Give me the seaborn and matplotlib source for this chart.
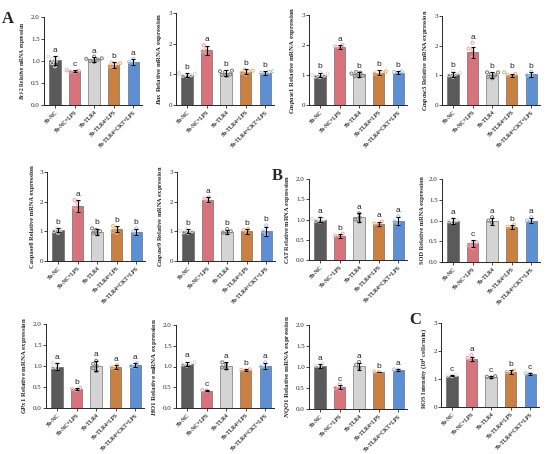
import pandas as pd
import seaborn as sns
import matplotlib.pyplot as plt

# groups and colours
groups = ["Sb-NC", "Sb-NC+LPS", "Sb-TLR4", "Sb-TLR4+LPS", "Sb-TLR4+CKT+LPS"]
bar_colors = ["#5a5a5a", "#d8737b", "#d4d4d4", "#c98040", "#5d8fd5"]
dot_colors = ["#dcdcdc", "#f6a4aa", "#7e7e7e", "#f8b070", "#a6c6f2"]

# Bcl-2
bcl2_mean = [1.02, 0.77, 1.04, 0.90, 0.98]
bcl2_sd = [0.10, 0.03, 0.06, 0.07, 0.06]
bcl2_pts = [[1.08, 1.05, 1.00, 0.95, 0.88, 1.10], [0.78, 0.76, 0.79, 0.75],
            [1.10, 1.05, 1.00, 1.03, 0.98, 1.06], [0.95, 0.93, 0.85, 0.88, 0.96], [1.05, 0.95, 0.98]]
bcl2_sig = ["a", "c", "a", "b", "a"]

# Bax
bax_mean = [0.98, 1.78, 1.05, 1.08, 1.05]
bax_sd = [0.06, 0.15, 0.10, 0.08, 0.06]
bax_pts = [[1.05, 1.00, 0.95, 0.97, 1.02, 0.93], [1.95, 1.85, 1.70, 1.75],
           [1.12, 1.00, 0.95, 1.08, 1.10, 0.98], [1.15, 1.10, 1.00, 1.05, 1.12], [1.10, 1.02, 1.05, 1.08]]
bax_sig = ["b", "a", "b", "b", "b"]

# Caspase1
casp1_mean = [1.00, 1.93, 1.02, 1.08, 1.08]
casp1_sd = [0.08, 0.07, 0.08, 0.08, 0.05]
casp1_pts = [[1.10, 1.05, 0.95, 0.98, 1.00, 0.93], [2.00, 1.95, 1.90],
             [1.10, 1.05, 0.95, 0.98, 1.08, 0.96], [1.12, 1.10, 1.00, 1.05], [1.12, 1.05, 1.10]]
casp1_sig = ["b", "a", "b", "b", "b"]

# Caspase3
casp3_mean = [1.03, 1.78, 1.00, 1.00, 1.03]
casp3_sd = [0.08, 0.18, 0.10, 0.05, 0.09]
casp3_pts = [[1.15, 1.05, 0.95, 1.00, 1.08], [2.10, 1.90, 1.85, 1.60],
             [1.10, 1.05, 0.90, 0.95, 1.00, 1.10], [1.05, 0.98, 1.02, 1.10], [1.12, 1.00, 0.98]]
casp3_sig = ["b", "a", "b", "b", "b"]

# Caspase8
casp8_mean = [1.05, 1.85, 0.97, 1.07, 0.98]
casp8_sd = [0.06, 0.20, 0.10, 0.10, 0.10]
casp8_pts = [[1.10, 1.00, 1.05, 0.95], [2.05, 1.95, 1.80, 1.70],
             [1.10, 1.00, 0.90, 0.95, 1.05], [1.18, 1.10, 1.00, 0.95], [1.10, 1.00, 0.90]]
casp8_sig = ["b", "a", "b", "b", "b"]

# Caspase9
casp9_mean = [1.00, 2.07, 0.98, 1.00, 1.00]
casp9_sd = [0.07, 0.08, 0.06, 0.08, 0.15]
casp9_pts = [[1.08, 1.02, 0.95, 1.00, 0.97], [2.15, 2.10, 2.00],
             [1.08, 1.00, 0.93, 0.96], [1.08, 1.05, 0.95], [1.20, 1.00, 0.90]]
casp9_sig = ["b", "a", "b", "b", "b"]

# CAT
cat_mean = [1.00, 0.59, 1.05, 0.90, 0.97]
cat_sd = [0.05, 0.04, 0.10, 0.05, 0.10]
cat_pts = [[1.05, 1.00, 0.97, 0.95, 1.02], [0.65, 0.60, 0.58],
           [1.15, 1.05, 0.95, 1.00], [0.95, 0.90, 0.88], [1.08, 0.95, 0.90]]
cat_sig = ["a", "b", "a", "a", "a"]

# SOD
sod_mean = [0.98, 0.45, 0.98, 0.85, 1.00]
sod_sd = [0.07, 0.08, 0.08, 0.05, 0.05]
sod_pts = [[1.05, 1.00, 0.95, 0.98], [0.48, 0.45, 0.40, 0.35],
           [1.08, 1.00, 0.95], [0.90, 0.85, 0.82], [1.08, 1.00, 0.98]]
sod_sig = ["a", "c", "a", "b", "a"]

# GPx1
gpx1_mean = [0.98, 0.45, 1.00, 0.97, 1.02]
gpx1_sd = [0.08, 0.03, 0.13, 0.05, 0.05]
gpx1_pts = [[1.08, 1.05, 0.95, 0.97], [0.48, 0.45, 0.43],
            [1.12, 1.05, 0.95, 0.88, 1.00], [1.02, 0.97, 0.93], [1.07, 1.00, 0.98]]
gpx1_sig = ["a", "b", "a", "a", "a"]

# HO1
ho1_mean = [1.07, 0.42, 1.02, 0.92, 1.02]
ho1_sd = [0.05, 0.02, 0.08, 0.02, 0.07]
ho1_pts = [[1.10, 1.05, 1.08, 1.02], [0.43, 0.42],
           [1.10, 1.05, 0.95, 0.98], [0.93, 0.92, 0.90], [1.10, 1.00, 0.98]]
ho1_sig = ["a", "c", "a", "b", "a"]

# NQO1
nqo1_mean = [1.03, 0.52, 1.02, 0.88, 0.93]
nqo1_sd = [0.05, 0.05, 0.08, 0.01, 0.02]
nqo1_pts = [[1.08, 1.03, 1.00], [0.58, 0.50, 0.48],
            [1.12, 1.05, 0.98], [0.89, 0.88], [0.94, 0.93]]
nqo1_sig = ["a", "c", "a", "b", "a"]

# ROS
ros_mean = [1.12, 1.72, 1.08, 1.25, 1.18]
ros_sd = [0.03, 0.08, 0.04, 0.06, 0.02]
ros_pts = [[1.15, 1.12, 1.10], [1.85, 1.75, 1.70],
           [1.10, 1.08, 1.05], [1.30, 1.25, 1.20], [1.20, 1.18]]
ros_sig = ["c", "a", "c", "b", "c"]

sns.set_style("ticks")
plt.rcParams["font.family"] = ["Liberation Serif", "DejaVu Serif"]
plt.rcParams["mathtext.fontset"] = "custom"
plt.rcParams["mathtext.it"] = "Liberation Serif:italic:bold"
plt.rcParams["mathtext.rm"] = "Liberation Serif:bold"
plt.rcParams["mathtext.bf"] = "Liberation Serif:bold"

W, H = 550, 454
fig = plt.figure(figsize=(5.5, 4.54), dpi=100)

# label, mean, sd, points, letters, ymax, (left px, top px, bottom px), label size
panels = [
    (r"$\mathit{Bcl}$-$\mathit{2}$", bcl2_mean, bcl2_sd, bcl2_pts, bcl2_sig, 2, (44, 17, 105), 4.0),
    (r"$\mathit{Bax}$", bax_mean, bax_sd, bax_pts, bax_sig, 3, (176, 13, 105), 4.9),
    (r"$\mathit{Caspase1}$", casp1_mean, casp1_sd, casp1_pts, casp1_sig, 3, (309, 15, 105), 4.9),
    (r"$\mathit{Caspase3}$", casp3_mean, casp3_sd, casp3_pts, casp3_sig, 3, (442, 16, 105), 4.6),
    ("Caspase8", casp8_mean, casp8_sd, casp8_pts, casp8_sig, 3, (47, 172, 261), 4.7),
    (r"$\mathit{Caspase9}$", casp9_mean, casp9_sd, casp9_pts, casp9_sig, 3, (177, 172, 261), 4.6),
    (r"$\mathit{CAT}$", cat_mean, cat_sd, cat_pts, cat_sig, 2, (309, 179, 260), 4.6),
    ("SOD", sod_mean, sod_sd, sod_pts, sod_sig, 2, (442, 179, 262), 4.6),
    (r"$\mathit{GPx1}$", gpx1_mean, gpx1_sd, gpx1_pts, gpx1_sig, 2, (46, 324, 408), 4.9),
    (r"$\mathit{HO1}$", ho1_mean, ho1_sd, ho1_pts, ho1_sig, 2, (176, 325, 408), 5.0),
    (r"$\mathit{NQO1}$", nqo1_mean, nqo1_sd, nqo1_pts, nqo1_sig, 2, (309, 325, 409), 5.0),
    (None, ros_mean, ros_sd, ros_pts, ros_sig, 3, (441, 323, 407), 4.6),
]

for label, mean, sd, pts, sig, ymax, (left, top, bottom), lsize in panels:
    ax = fig.add_axes([left / W, 1 - bottom / H, 98 / W, (bottom - top) / H])

    # bars
    sns.barplot(x=groups, y=mean, hue=groups, palette=bar_colors, order=groups,
                legend=False, errorbar=None, width=0.58, saturation=1,
                edgecolor=bar_colors, linewidth=0.4, ax=ax, zorder=1)

    # replicate points (open circles)
    long = pd.DataFrame({"group": [g for g, p in zip(groups, pts) for _ in p],
                         "value": [v for p in pts for v in p]})
    sns.swarmplot(data=long, x="group", y="value", hue="group", order=groups,
                  hue_order=groups, palette=dot_colors, size=2.2, legend=False,
                  ax=ax, zorder=3, warn_thresh=1)
    for coll in ax.collections:
        fc = coll.get_facecolor()
        coll.set_edgecolor(fc)
        coll.set_facecolor("none")
        coll.set_linewidth(0.75)

    # error bars
    ax.errorbar(range(5), mean, yerr=sd, fmt="none", ecolor="black",
                elinewidth=0.8, capsize=1.6, capthick=0.8, zorder=4)

    # significance letters
    for i in range(5):
        y = max(mean[i] + sd[i], max(pts[i]))
        ax.annotate(sig[i], (i, y), xytext=(0, 1.5), textcoords="offset points",
                    ha="center", va="bottom", fontsize=6, family="Liberation Sans")

    ax.set_xlim(-0.56, 4.45)
    ax.set_ylim(0, ymax)
    if ymax == 2:
        ax.set_yticks([0, 0.5, 1, 1.5, 2])
        ax.set_yticklabels(["0.0", "0.5", "1.0", "1.5", "2.0"])
    else:
        ax.set_yticks([0, 1, 2, 3])
        ax.set_yticklabels(["0", "1", "2", "3"])
    ax.set_xticks(range(5))
    ax.set_xticklabels(groups, rotation=45, ha="right", rotation_mode="anchor",
                       fontsize=4.0, fontweight="bold")
    ax.tick_params(axis="y", labelsize=5, length=2, width=0.6, pad=1)
    ax.tick_params(axis="x", length=2, width=0.6, pad=1.5)
    for s in ["left", "bottom"]:
        ax.spines[s].set_linewidth(0.7)
    sns.despine(ax=ax)
    ax.set_xlabel("")

    if label is None:
        ax.set_ylabel(r"ROS Intensity (10$^{\mathrm{4}}$ cells·min)",
                      fontsize=lsize, fontweight="bold", labelpad=3)
        ax.yaxis.label.set_y(0.46)
    else:
        ax.set_ylabel(label + " Relative mRNA expression",
                      fontsize=lsize, fontweight="bold", labelpad=3)

# panel letters
fig.text(0.004, 0.975, "A", fontsize=12, fontweight="bold", va="top")
fig.text(0.494, 0.630, "B", fontsize=12, fontweight="bold", va="top")
fig.text(0.745, 0.313, "C", fontsize=12, fontweight="bold", va="top")

fig.savefig("out.png", dpi=100)
